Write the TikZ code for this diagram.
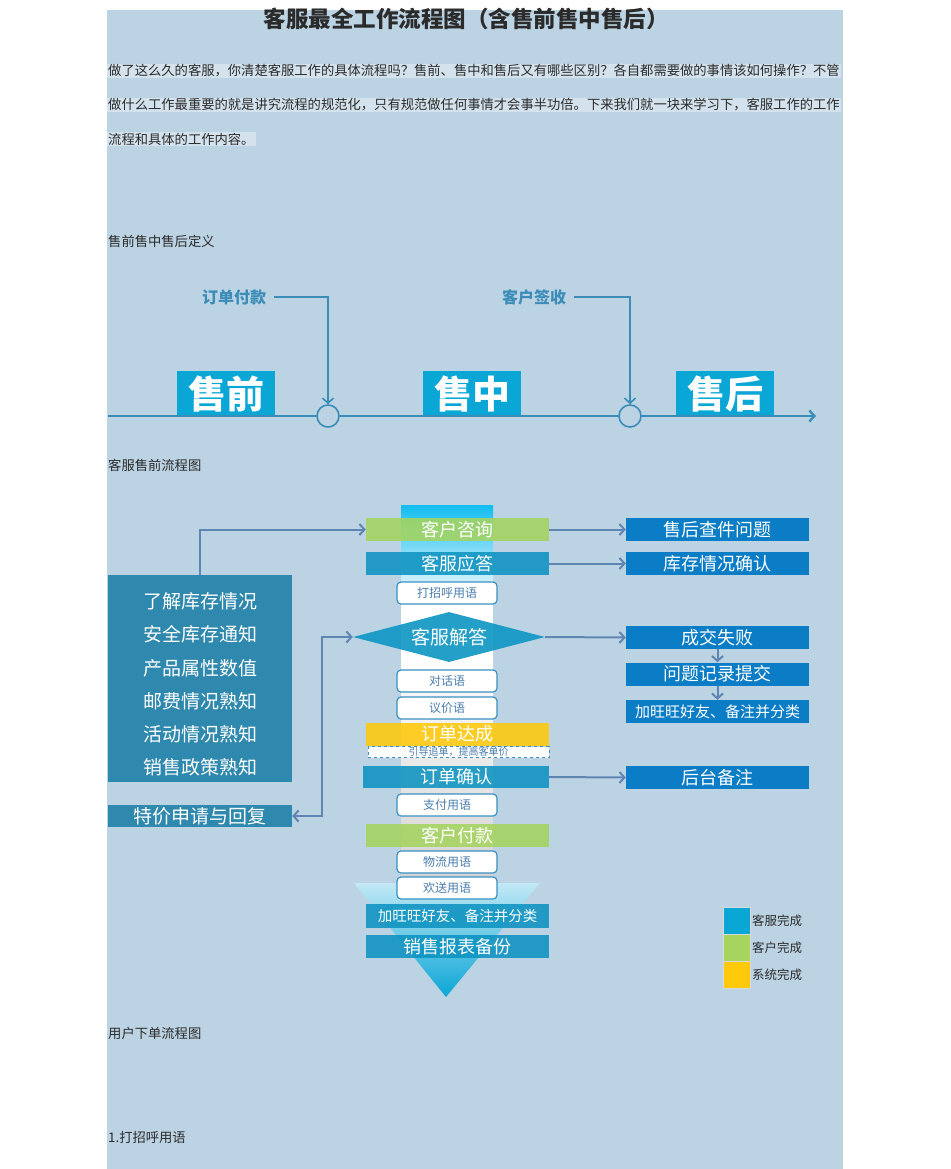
\documentclass[tikz,border=0pt]{standalone}
\usepackage{fontspec}
\setmainfont{Noto Sans CJK SC}
\usetikzlibrary{arrows.meta,shapes.geometric}

\definecolor{pagebg}{HTML}{BCD3E3}
\definecolor{stagecyan}{HTML}{0AA6D6}
\definecolor{tlblue}{HTML}{3B8DB8}
\definecolor{flowgreen}{HTML}{A5D45F}
\definecolor{flowteal}{HTML}{0D93C1}
\definecolor{flowyellow}{HTML}{FFC90B}
\definecolor{rightblue}{HTML}{0B7DC6}
\definecolor{leftteal}{HTML}{2F88AD}
\definecolor{arrowblue}{HTML}{5F86B2}
\definecolor{smalltext}{HTML}{4A7DAE}
\definecolor{smallborder}{HTML}{3A90C2}
\definecolor{bodytext}{HTML}{2B2B2B}
\definecolor{barcyan}{HTML}{12BDF0}

\newcommand{\fsz}[1]{\fontsize{#1}{#1}\selectfont}

\tikzset{
  >={Straight Barb[length=5pt,width=11pt]},
  plaintext/.style={anchor=west, inner sep=1pt, text=bodytext, font=\fsz{13.3}},
  stagebox/.style={fill=stagecyan, minimum width=98pt, minimum height=45pt, inner sep=0pt,
    text=white, font=\bfseries\fsz{38}},
  milestone/.style={circle, draw=tlblue, line width=1.6pt, fill=pagebg, minimum size=22pt, inner sep=0pt},
  tllabel/.style={text=tlblue, font=\bfseries\fsz{16}, inner sep=0pt},
  tlarrow/.style={draw=tlblue, line width=1.6pt, ->},
  widebox/.style={minimum width=183pt, minimum height=23pt, inner sep=0pt, text=white,
    font=\fsz{18}, fill opacity=0.88, text opacity=1},
  tipbox/.style={draw=smallborder, fill=white, rounded corners=4pt, line width=1.2pt,
    minimum width=100pt, minimum height=22pt, inner sep=0pt, text=smalltext, font=\fsz{12}},
  rightbox/.style={fill=rightblue, minimum width=183pt, minimum height=23pt, inner sep=0pt,
    text=white, font=\fsz{18}},
  flowarrow/.style={draw=arrowblue, line width=2pt},
  legendsq/.style={draw=white!70!gray, minimum size=27pt, inner sep=0pt},
  legendtxt/.style={anchor=west, inner sep=0pt, text=bodytext, font=\fsz{12.5}}
}

\begin{document}
\begin{tikzpicture}[x=1pt, y=-1pt]
\useasboundingbox (0,0) rectangle (950,1169);
\fill[white] (0,0) rectangle (950,1169);
\fill[pagebg] (107,10) rectangle (843,1169);

% title and text
\node[text=bodytext, font=\bfseries\fsz{22.5}, inner sep=0pt] (title) at (466,19) {客服最全工作流程图（含售前售中售后）};
\foreach \t/\y [count=\i] in {
  {做了这么久的客服，你清楚客服工作的具体流程吗？售前、售中和售后又有哪些区别？各自都需要做的事情该如何操作？不管}/71,
  {做什么工作最重要的就是讲究流程的规范化，只有规范做任何事情才会事半功倍。下来我们就一块来学习下，客服工作的工作}/105,
  {流程和具体的工作内容。}/139}
  \node[plaintext, fill=white!35!pagebg] (intro\i) at (107,\y) {\t};
\node[plaintext] (defhead) at (107,241) {售前售中售后定义};

% timeline
\node[stagebox] (presale) at (226,393.5) {售前};
\node[stagebox] (midsale) at (472,393.5) {售中};
\node[stagebox] (aftersale) at (725,393.5) {售后};
\coordinate (tlstart) at (108,416);
\coordinate (tlend) at (816,416);
\draw[tlblue, line width=2.4pt, ->] (tlstart) -- (tlend);
\node[milestone] (paid) at (328,416) {};
\node[milestone] (signed) at (630,416) {};
\node[tllabel] (paylbl) at (234,297) {订单付款};
\node[tllabel] (signlbl) at (534,297) {客户签收};
\draw[tlarrow] (paylbl.east) ++(8,0) -| (paid.north);
\draw[tlarrow] (signlbl.east) ++(8,0) -| (signed.north);

\node[plaintext] (prehead) at (107,465) {客服售前流程图};

% center bar and funnel
\shade[top color=barcyan, bottom color=white] (401,505) rectangle (493,600);
\fill[white] (401,599) rectangle (493,652);
\shade[top color=white, bottom color=gray!35] (401,651) rectangle (493,880);
\shade[top color=white!75!stagecyan, bottom color=stagecyan] (354,883) -- (540,883) -- (446,997) -- cycle;

% center column
\node[widebox, fill=flowgreen] (consult) at (457.5,529.5) {客户咨询};
\node[widebox, fill=flowteal] (reply) at (457.5,563.5) {客服应答};
\node[tipbox] (greet) at (447,593) {打招呼用语};
\node[diamond, fill=flowteal!90!stagecyan, fill opacity=0.9, text opacity=1, minimum width=192pt, minimum height=50pt,
  aspect=3.84, inner sep=0pt, text=white, font=\fsz{19}] (answer) at (449,637) {客服解答};
\node[tipbox] (talk) at (447,681) {对话语};
\node[tipbox] (bargain) at (447,708) {议价语};
\node[widebox, fill=flowyellow] (deal) at (457.5,734) {订单达成};
\node[draw=smallborder, dashed, fill=white, line width=1pt, minimum width=181pt, minimum height=11pt,
  inner sep=0pt, text=smalltext, font=\fsz{10}] (upsell) at (458.5,752) {引导追单，提高客单价};
\node[widebox, fill=flowteal, minimum width=186pt, minimum height=22pt] (confirm) at (456,777) {订单确认};
\node[tipbox] (paytip) at (447,805) {支付用语};
\node[widebox, fill=flowgreen] (pay) at (457.5,835.5) {客户付款};
\node[tipbox] (shiptip) at (447,862) {物流用语};
\node[tipbox] (byetip) at (447,888) {欢送用语};
\node[widebox, fill=flowteal, minimum height=24pt, font=\fsz{14.5}] (addww) at (457.5,916) {加旺旺好友、备注并分类};
\node[widebox, fill=flowteal] (report) at (457.5,946.5) {销售报表备份};

% right column
\node[rightbox] (aftercheck) at (717.5,529.5) {售后查件问题};
\node[rightbox] (stockcheck) at (717.5,563.5) {库存情况确认};
\node[rightbox] (fail) at (717.5,637.5) {成交失败};
\node[rightbox] (record) at (717.5,674) {问题记录提交};
\node[rightbox, font=\fsz{15}] (addwwr) at (717.5,711.5) {加旺旺好友、备注并分类};
\node[rightbox] (backnote) at (717.5,777.5) {后台备注};

% left column
\node[fill=leftteal, minimum width=184pt, minimum height=207pt, inner sep=0pt] (infobox) at (200,678.5) {};
\node[text=white, align=center, inner sep=0pt, font=\fontsize{19}{33.2}\selectfont] (infotext) at (200,684.5)
  {了解库存情况\\安全库存通知\\产品属性数值\\邮费情况熟知\\活动情况熟知\\销售政策熟知};
\node[fill=leftteal, minimum width=184pt, minimum height=22pt, inner sep=0pt, text=white,
  font=\fsz{19}] (special) at (200,816) {特价申请与回复};

% connectors
\draw[flowarrow, ->] (infobox.north) |- (consult.west);
\draw[flowarrow, <->] (special.east) -- ++(30,0) |- (answer.west);
\draw[flowarrow, ->] (consult.east) -- (aftercheck.west);
\draw[flowarrow, ->] (reply.east) -- (stockcheck.west);
\draw[flowarrow, ->] (answer.east) -- (fail.west);
\draw[flowarrow, ->] (confirm.east) -- (backnote.west);
\draw[flowarrow, ->] (fail.south) -- (record.north);
\draw[flowarrow, ->] (record.south) -- (addwwr.north);

% legend
\foreach \c/\t/\y [count=\i] in {stagecyan/客服完成/920.5, flowgreen/客户完成/947.5, flowyellow/系统完成/974.5} {
  \node[legendsq, fill=\c] (legsq\i) at (736.5,\y) {};
  \node[legendtxt] (legtxt\i) at (752,\y) {\t};
}

\node[plaintext] (orderhead) at (107,1033) {用户下单流程图};
\node[plaintext] (step1) at (107,1137) {1.打招呼用语};
\end{tikzpicture}
\end{document}
